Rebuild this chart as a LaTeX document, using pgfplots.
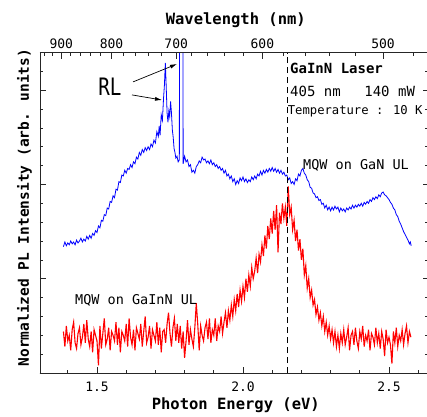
\documentclass[border=0pt]{standalone}
\usepackage{fontspec}
\setmainfont{DejaVu Sans Mono}
\usepackage{pgfplots}
\pgfplotsset{compat=1.18}
\usetikzlibrary{arrows.meta}

\pgfplotsset{
  common/.style={
    at={(0,0)}, anchor=south west,
    scale only axis, width=388.5pt, height=320.5pt,
    xmin=1.3048, xmax=2.6353, ymin=0, ymax=17,
    tick align=inside,
    major tick length=6pt, minor tick length=3.5pt,
    axis line style={black!85, line width=0.8pt},
    every tick/.style={black!85, line width=0.7pt},
    tick label style={font=\fontsize{13}{13}\selectfont},
    /pgf/number format/assume math mode=true,
  }
}

\begin{document}
\begin{tikzpicture}
\useasboundingbox (-40pt,-43pt) rectangle (387pt,373pt);
\begin{axis}[common,
  xtick pos=lower,
  xtick={1.5,2.0,2.5}, xticklabels={1.5,2.0,2.5},
  minor xtick={1.4,1.6,1.7,1.8,1.9,2.1,2.2,2.3,2.4,2.6},
  xticklabel shift=5pt,
  ytick={0,5,10,15}, yticklabels={},
  minor ytick={1,2,3,4,6,7,8,9,11,12,13,14,16,17},
  ytick pos=both,
  xlabel={\bfseries Photon Energy (eV)},
  xlabel style={at={(axis description cs:0.504,-0.1014)}, anchor=center, font=\fontsize{15.5}{15.5}\selectfont},
  ylabel={\bfseries Normalized PL Intensity (arb. units)},
  ylabel style={at={(axis description cs:-0.040,0.516)}, anchor=center, rotate=0, font=\fontsize{14.5}{14.5}\selectfont},
]
\addplot[red, line width=1.1pt] table[x index=0, y index=1] {
x y
1.385 2.2
1.390 1.4
1.395 2.5
1.400 1.7
1.405 2.0
1.410 1.2
1.415 2.3
1.420 2.7
1.425 1.6
1.430 1.3
1.435 2.1
1.440 2.4
1.445 1.5
1.450 1.9
1.455 2.6
1.460 1.6
1.465 2.8
1.470 1.8
1.475 1.4
1.480 2.2
1.485 1.1
1.490 2.3
1.495 2.0
1.500 1.7
1.505 0.4
1.510 2.5
1.515 1.3
1.520 2.1
1.525 2.9
1.530 1.5
1.535 1.8
1.540 2.4
1.545 1.2
1.550 2.2
1.555 2.0
1.560 1.7
1.565 2.7
1.570 1.5
1.575 2.4
1.580 1.1
1.585 2.2
1.590 2.0
1.595 1.7
1.600 2.6
1.605 1.4
1.610 2.9
1.615 1.9
1.620 1.5
1.625 2.3
1.630 1.2
1.635 2.4
1.640 2.1
1.645 1.8
1.650 2.6
1.655 1.4
1.660 2.2
1.665 3.0
1.670 1.6
1.675 1.9
1.680 2.5
1.685 1.3
1.690 2.3
1.695 2.0
1.700 1.7
1.705 2.7
1.710 1.5
1.715 2.4
1.720 1.1
1.725 2.2
1.730 2.3
1.735 1.6
1.740 2.6
1.745 3.2
1.750 2.1
1.755 1.4
1.760 2.4
1.765 2.9
1.770 1.7
1.775 2.6
1.780 1.6
1.785 2.5
1.790 1.3
1.795 2.2
1.800 0.8
1.805 1.7
1.810 2.8
1.815 1.5
1.820 2.3
1.825 1.8
1.830 1.4
1.835 2.4
1.840 3.7
1.845 2.6
1.850 1.2
1.855 2.5
1.860 2.0
1.865 1.7
1.870 2.4
1.875 2.7
1.880 1.8
1.885 2.9
1.890 1.6
1.895 2.3
1.900 2.0
1.905 2.9
1.910 1.7
1.915 2.5
1.920 2.2
1.925 3.0
1.930 2.1
1.935 2.7
1.940 3.2
1.945 2.4
1.950 3.3
1.955 2.8
1.960 3.6
1.965 3.0
1.970 3.9
1.975 3.3
1.980 4.2
1.985 3.5
1.990 4.4
1.995 3.8
2.000 4.6
2.005 4.0
2.010 5.0
2.015 4.3
2.020 5.2
2.025 4.6
2.030 5.6
2.035 5.0
2.040 5.4
2.045 6.1
2.050 5.3
2.055 6.3
2.060 5.9
2.065 6.8
2.070 6.2
2.075 7.3
2.080 6.6
2.085 7.8
2.090 7.1
2.095 8.2
2.100 7.4
2.105 8.6
2.110 7.6
2.115 8.9
2.120 6.4
2.125 8.5
2.130 7.9
2.135 9.0
2.140 8.2
2.145 8.8
2.150 7.8
2.155 9.9
2.160 8.4
2.165 8.8
2.170 7.6
2.175 8.1
2.180 7.0
2.185 7.6
2.190 6.5
2.195 7.1
2.200 6.0
2.205 6.6
2.210 5.2
2.215 5.7
2.220 4.5
2.225 5.0
2.230 4.0
2.235 4.4
2.240 3.6
2.245 3.9
2.250 3.1
2.255 3.5
2.260 2.8
2.265 3.2
2.270 2.5
2.275 3.0
2.280 2.2
2.285 2.7
2.290 2.0
2.295 2.5
2.300 1.8
2.305 2.3
2.310 1.6
2.315 2.2
2.320 1.4
2.325 2.0
2.330 1.3
2.335 2.1
2.340 1.6
2.345 2.3
2.350 1.5
2.355 1.9
2.360 2.4
2.365 1.2
2.370 2.0
2.375 2.2
2.380 1.5
2.385 2.4
2.390 1.7
2.395 1.3
2.400 2.2
2.405 1.8
2.410 2.5
2.415 1.4
2.420 2.0
2.425 1.7
2.430 2.3
2.435 1.2
2.440 2.1
2.445 1.9
2.450 1.5
2.455 2.4
2.460 1.6
2.465 2.1
2.470 1.3
2.475 2.2
2.480 1.8
2.485 0.9
2.490 2.3
2.495 1.6
2.500 1.9
2.505 1.5
2.510 0.5
2.515 2.2
2.520 1.6
2.525 2.4
2.530 1.4
2.535 2.0
2.540 1.7
2.545 2.3
2.550 1.5
2.555 2.1
2.560 2.5
2.565 1.6
2.570 2.2
2.575 1.9
};
\addplot[blue, line width=0.8pt] table[x index=0, y index=1] {
x y
1.385 6.70
1.390 6.95
1.395 6.75
1.400 6.90
1.405 6.80
1.410 7.00
1.415 6.85
1.420 6.95
1.425 6.80
1.430 7.05
1.435 6.90
1.440 7.00
1.445 7.15
1.450 6.95
1.455 7.10
1.460 7.00
1.465 7.25
1.470 7.10
1.475 7.30
1.480 7.15
1.485 7.40
1.490 7.30
1.495 7.55
1.500 7.45
1.505 7.80
1.510 7.70
1.515 8.10
1.520 8.05
1.525 8.40
1.530 8.35
1.535 8.75
1.540 8.70
1.545 9.10
1.550 9.05
1.555 9.40
1.560 9.30
1.565 9.75
1.570 9.70
1.575 10.15
1.580 10.10
1.585 10.50
1.590 10.45
1.595 10.75
1.600 10.60
1.605 10.85
1.610 10.80
1.615 11.05
1.620 10.90
1.625 11.20
1.630 11.10
1.635 11.45
1.640 11.35
1.645 11.70
1.650 11.55
1.655 11.85
1.660 11.70
1.665 11.95
1.670 11.80
1.675 12.00
1.680 11.85
1.685 12.15
1.690 12.00
1.695 12.35
1.700 12.20
1.705 12.80
1.710 12.55
1.713 13.10
1.716 12.60
1.720 13.70
1.724 13.40
1.728 14.60
1.731 15.30
1.734 16.45
1.737 15.20
1.740 13.80
1.743 13.30
1.746 13.90
1.749 13.60
1.752 14.40
1.755 13.80
1.758 12.90
1.761 12.50
1.764 11.90
1.767 11.70
1.770 11.40
1.774 11.50
1.778 11.20
1.782 11.30
1.783 25
1.794 25
1.795 11.10
1.800 11.50
1.805 11.20
1.810 11.30
1.815 10.95
1.820 11.05
1.825 10.65
1.830 10.75
1.835 10.60
1.840 10.95
1.845 11.05
1.850 11.25
1.855 11.15
1.860 11.45
1.865 11.30
1.870 11.35
1.875 11.15
1.880 11.25
1.885 11.10
1.890 11.30
1.895 11.05
1.900 11.15
1.905 10.95
1.910 11.05
1.915 10.85
1.920 10.95
1.925 10.75
1.930 10.85
1.935 10.60
1.940 10.75
1.945 10.45
1.950 10.55
1.955 10.30
1.960 10.45
1.965 10.15
1.970 10.30
1.975 10.00
1.980 10.20
1.985 10.05
1.990 10.35
1.995 10.20
2.000 10.40
2.005 10.15
2.010 10.30
2.015 10.10
2.020 10.25
2.025 10.15
2.030 10.40
2.035 10.25
2.040 10.45
2.045 10.30
2.050 10.55
2.055 10.45
2.060 10.70
2.065 10.50
2.070 10.75
2.075 10.60
2.080 10.80
2.085 10.65
2.090 10.85
2.095 10.70
2.100 10.90
2.105 10.70
2.110 10.85
2.115 10.65
2.120 10.80
2.125 10.60
2.130 10.75
2.135 10.55
2.140 10.65
2.145 10.45
2.150 10.50
2.155 10.25
2.160 10.35
2.165 10.05
2.170 10.15
2.175 10.00
2.180 10.30
2.185 10.20
2.190 10.55
2.195 10.45
2.200 10.75
2.205 10.85
2.210 10.60
2.215 10.50
2.220 10.25
2.225 10.15
2.230 9.85
2.235 9.80
2.240 9.55
2.245 9.50
2.250 9.30
2.255 9.35
2.260 9.15
2.265 9.20
2.270 8.95
2.275 9.00
2.280 8.75
2.285 8.90
2.290 8.65
2.295 8.80
2.300 8.60
2.305 8.80
2.310 8.65
2.315 8.85
2.320 8.70
2.325 8.80
2.330 8.55
2.335 8.75
2.340 8.60
2.345 8.70
2.350 8.55
2.355 8.75
2.360 8.65
2.365 8.80
2.370 8.70
2.375 8.90
2.380 8.75
2.385 8.90
2.390 8.80
2.395 8.95
2.400 8.85
2.405 9.00
2.410 8.85
2.415 9.05
2.420 8.95
2.425 9.10
2.430 9.00
2.435 9.20
2.440 9.10
2.445 9.30
2.450 9.20
2.455 9.35
2.460 9.25
2.465 9.45
2.470 9.35
2.475 9.55
2.480 9.60
2.485 9.45
2.490 9.40
2.495 9.30
2.500 9.20
2.505 9.05
2.510 8.95
2.515 8.75
2.520 8.65
2.525 8.40
2.530 8.30
2.535 8.05
2.540 7.90
2.545 7.70
2.550 7.50
2.555 7.35
2.560 7.20
2.565 7.05
2.570 6.85
2.573 6.95
2.576 6.75
};
\draw[black, line width=1pt, dash pattern=on 6pt off 4pt] (axis cs:2.151,0) -- (axis cs:2.151,17);
\node[anchor=west, inner sep=0pt, font=\fontsize{14}{14}\selectfont\bfseries] at (axis cs:2.161,16.18) {GaInN Laser};
\node[anchor=west, inner sep=0pt, font=\fontsize{14}{14}\selectfont] at (axis cs:2.161,14.96) {405 nm};
\node[anchor=west, inner sep=0pt, font=\fontsize{14}{14}\selectfont] at (axis cs:2.415,14.96) {140 mW};
\node[anchor=west, inner sep=0pt, font=\fontsize{12.2}{12.2}\selectfont] at (axis cs:2.153,13.9) {Temperature : 10 K};
\node[anchor=west, inner sep=0pt, font=\fontsize{13.5}{13.5}\selectfont] at (axis cs:2.2055,11.03) {MQW on GaN UL};
\node[anchor=west, inner sep=0pt, font=\fontsize{13.5}{13.5}\selectfont] at (axis cs:1.4247,3.87) {MQW on GaInN UL};
\node[inner sep=0pt, xscale=0.8, font=\fontsize{24}{24}\selectfont] at (axis cs:1.5445,15.17) {RL};
\draw[black, line width=0.7pt, -{Latex[length=7pt,width=4pt]}] (axis cs:1.6233,15.44) -- (axis cs:1.774,16.39);
\draw[black, line width=0.7pt, -{Latex[length=7pt,width=4pt]}] (axis cs:1.6199,14.75) -- (axis cs:1.7226,14.48);
\end{axis}
\begin{axis}[common,
  hide y axis,
  xtick pos=upper, xticklabel pos=upper,
  xtick={1.37760,1.54980,1.77120,2.06640,2.47968},
  xticklabels={900,800,700,600,500},
  minor xtick={1.31898,1.34765,1.40891,1.44167,1.47600,1.51200,1.58954,1.63137,1.67546,1.72200,1.82329,1.87855,1.93725,1.99974,2.13766,2.21400,2.29600,2.38431,2.58300},
  xlabel={\bfseries Wavelength (nm)},
  xlabel style={at={(axis description cs:0.504,1.1014)}, anchor=center, font=\fontsize{15.5}{15.5}\selectfont},
]
\end{axis}
\end{tikzpicture}
\end{document}
